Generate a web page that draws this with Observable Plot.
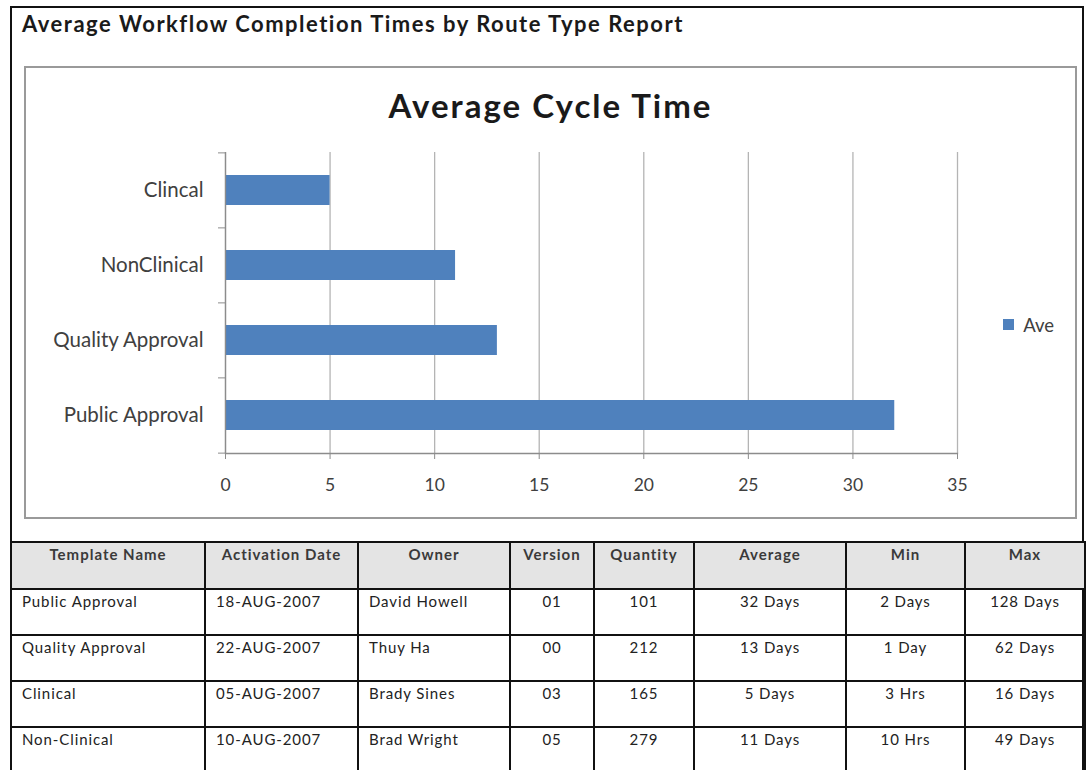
<!DOCTYPE html>
<html>
<head>
<meta charset="utf-8">
<script src="https://cdn.jsdelivr.net/npm/d3@7"></script>
<script src="https://cdn.jsdelivr.net/npm/@observablehq/plot@0.6"></script>
<style>
  html, body { margin: 0; padding: 0; background: #fff; }
  body { width: 1089px; height: 770px; position: relative; overflow: hidden; font-family: Lato, "Open Sans", sans-serif; }
  #frame { position: absolute; left: 10px; top: 6px; width: 1074px; height: 800px; box-sizing: border-box;
           border-left: 2px solid #111; border-top: 2px solid #111; border-right: 2px solid #111; }
  #pageTitle { position: absolute; left: 22px; top: 11px; font-size: 22px; font-weight: 700; color: #1a1a1a; line-height: 26px; letter-spacing: 1.5px; white-space: nowrap; }
  #chartBox { position: absolute; left: 24px; top: 66px; width: 1053px; height: 453px; box-sizing: border-box; border: 2px solid #9a9a9a; }
  #chartTitle { position: absolute; left: 0; width: 100%; top: 19px; text-align: center; font-size: 33px; font-weight: 700; color: #1a1a1a; line-height: 36px; letter-spacing: 2px; }
  #plotHolder { position: absolute; left: 0; top: 62px; }
  #legendHolder { position: absolute; left: 977px; top: 240px; }
  table { position: absolute; left: 10px; top: 541px; width: 1074px; border-collapse: collapse; table-layout: fixed; }
  td, th { border: 2px solid #111; vertical-align: top; padding: 2px 4px 0 10px; font-size: 15px; line-height: 18px; color: #222; letter-spacing: 0.9px; white-space: nowrap; }
  th { background: #e4e4e4; font-weight: 700; color: #3a3a3a; text-align: center; height: 43px; padding-left: 4px; letter-spacing: 1px; }
  td { height: 42px; text-align: center; padding-left: 4px; }
  td.left { text-align: left; padding-left: 10px; }
</style>
</head>
<body>
<div id="frame"></div>
<div id="pageTitle"></div>
<div id="chartBox">
  <div id="chartTitle"></div>
  <div id="plotHolder"></div>
  <div id="legendHolder"></div>
</div>
<table id="report"></table>
<script>
// ---- chart data ----
const pageTitle = "Average Workflow Completion Times by Route Type Report";
const chartTitle = "Average Cycle Time";
const categories = ["Clincal", "NonClinical", "Quality Approval", "Public Approval"];
const averages = [5, 11, 13, 32];
const seriesName = "Ave";
const xTicks = [0, 5, 10, 15, 20, 25, 30, 35];

// ---- table data ----
const tableHeaders = ["Template Name", "Activation Date", "Owner", "Version", "Quantity", "Average", "Min", "Max"];
const templateNames = ["Public Approval", "Quality Approval", "Clinical", "Non-Clinical"];
const activationDates = ["18-AUG-2007", "22-AUG-2007", "05-AUG-2007", "10-AUG-2007"];
const owners = ["David Howell", "Thuy Ha", "Brady Sines", "Brad Wright"];
const versions = ["01", "00", "03", "05"];
const quantities = ["101", "212", "165", "279"];
const averageTexts = ["32 Days", "13 Days", "5 Days", "11 Days"];
const minTexts = ["2 Days", "1 Day", "3 Hrs", "10 Hrs"];
const maxTexts = ["128 Days", "62 Days", "16 Days", "49 Days"];

const barColor = "#4f81bd";
const axisGray = "#8c8c8c";
const labelColor = "#404040";

document.getElementById("pageTitle").textContent = pageTitle;
document.getElementById("chartTitle").textContent = chartTitle;

const data = categories.map((c, i) => ({category: c, value: averages[i], series: seriesName}));

const W = 1000, H = 380, mt = 22, mb = 57, ml = 199, mr = 69;
const step = (H - mt - mb) / categories.length;

const chart = Plot.plot({
  width: W, height: H,
  marginTop: mt, marginBottom: mb, marginLeft: ml, marginRight: mr,
  style: {fontFamily: "Lato, 'Open Sans', sans-serif", background: "transparent", overflow: "visible"},
  x: {domain: [0, 35], label: null},
  y: {domain: categories, paddingInner: 0.6, paddingOuter: 0.3, label: null},
  marks: [
    Plot.gridX({ticks: xTicks, stroke: "#b4b4b4", strokeOpacity: 1, strokeWidth: 1.3}),
    Plot.barX(data, {x: "value", y: "category", fill: barColor}),
    Plot.ruleX([0], {stroke: axisGray, strokeWidth: 1.3}),
    Plot.frame({anchor: "bottom", stroke: axisGray, strokeWidth: 1.3}),
    Plot.axisX({ticks: xTicks, tickSize: 6, tickPadding: 19, stroke: axisGray, fill: labelColor, fontSize: 17.5, label: null, tickFormat: d => String(d)}),
    Plot.axisY({tickSize: 0, tickPadding: 22, fill: labelColor, fontSize: 20.5, letterSpacing: 0.2, label: null}),
    Plot.axisY({tickSize: 7, tickFormat: () => "", stroke: axisGray, dy: -step / 2, label: null}),
    Plot.axisY({ticks: [categories[categories.length - 1]], tickSize: 7, tickFormat: () => "", stroke: axisGray, dy: step / 2, label: null})
  ]
});
document.getElementById("plotHolder").appendChild(chart);

const legend = Plot.legend({
  color: {domain: [seriesName], range: [barColor]},
  legend: "swatches",
  swatchSize: 11,
  style: {fontFamily: "Lato, 'Open Sans', sans-serif", fontSize: "18.5px", color: labelColor}
});
document.getElementById("legendHolder").appendChild(legend);

// ---- table ----
const table = document.getElementById("report");
const colWidths = [194, 153, 152, 84, 100, 152, 119, 120];
const colgroup = document.createElement("colgroup");
colWidths.forEach(w => { const c = document.createElement("col"); c.style.width = w + "px"; colgroup.appendChild(c); });
table.appendChild(colgroup);
const hr = document.createElement("tr");
tableHeaders.forEach(h => { const th = document.createElement("th"); th.textContent = h; hr.appendChild(th); });
table.appendChild(hr);
templateNames.forEach((name, i) => {
  const tr = document.createElement("tr");
  const cells = [name, activationDates[i], owners[i], versions[i], quantities[i], averageTexts[i], minTexts[i], maxTexts[i]];
  cells.forEach((v, j) => {
    const td = document.createElement("td");
    td.textContent = v;
    if (j < 3) td.className = "left";
    tr.appendChild(td);
  });
  table.appendChild(tr);
});
</script>
</body>
</html>
